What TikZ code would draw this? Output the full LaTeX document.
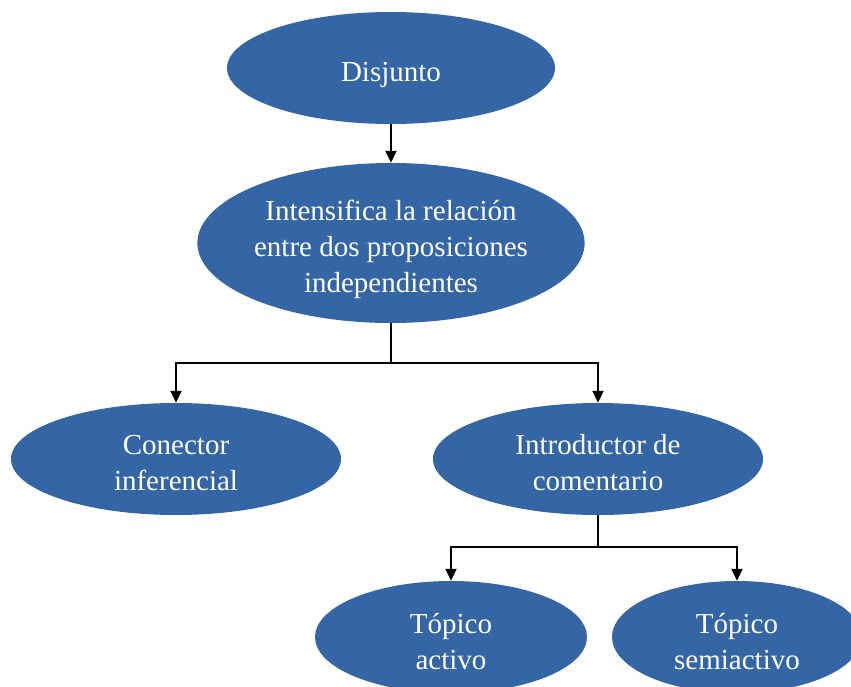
\documentclass[tikz,border=0pt]{standalone}
\usepackage{fontspec}
\setmainfont{Liberation Serif}
\usetikzlibrary{shapes.geometric,arrows.meta}
\definecolor{nodeblue}{RGB}{52,101,164}
\newcommand{\topstrut}[1]{\rule{0pt}{#1}}
\tikzset{
  bub/.style={ellipse, fill=nodeblue, draw=none, inner sep=0pt, align=center,
    text=white, font=\fontsize{29}{36}\selectfont},
  arr/.style={draw=black, line width=1.6pt, -{Triangle[length=12pt,width=11pt]}}
}
\begin{document}
\begin{tikzpicture}[x=1pt,y=-1pt]
\clip (0,0) rectangle (851,686);
\fill[white] (0,0) rectangle (851,686);
\node[bub, minimum width=328pt, minimum height=112pt] (d) at (391,68) {\topstrut{34pt}Disjunto};
\node[bub, minimum width=386pt, minimum height=160pt] (i) at (391,243) {\topstrut{34pt}Intensifica la relación\\entre dos proposiciones\\independientes};
\node[bub, minimum width=330pt, minimum height=112pt] (c) at (176,459) {\topstrut{28pt}Conector\\inferencial};
\node[bub, minimum width=330pt, minimum height=112pt] (n) at (598,459) {\topstrut{28pt}Introductor de\\comentario};
\node[bub, minimum width=272pt, minimum height=112pt] (t1) at (451,637) {\topstrut{29pt}Tópico\\activo};
\node[bub, minimum width=250pt, minimum height=112pt] (t2) at (737,637) {\topstrut{29pt}Tópico\\semiactivo};
\coordinate (j1) at (391,363);
\coordinate (j2) at (598,547);
\draw[arr] (d) -- (i);
\draw[line width=1.6pt] (i.south) -- (j1);
\draw[arr] (j1) -| (c.north);
\draw[arr] (j1) -| (n.north);
\draw[line width=1.6pt] (n.south) -- (j2);
\draw[arr] (j2) -| (t1.north);
\draw[arr] (j2) -| (t2.north);
\end{tikzpicture}
\end{document}
